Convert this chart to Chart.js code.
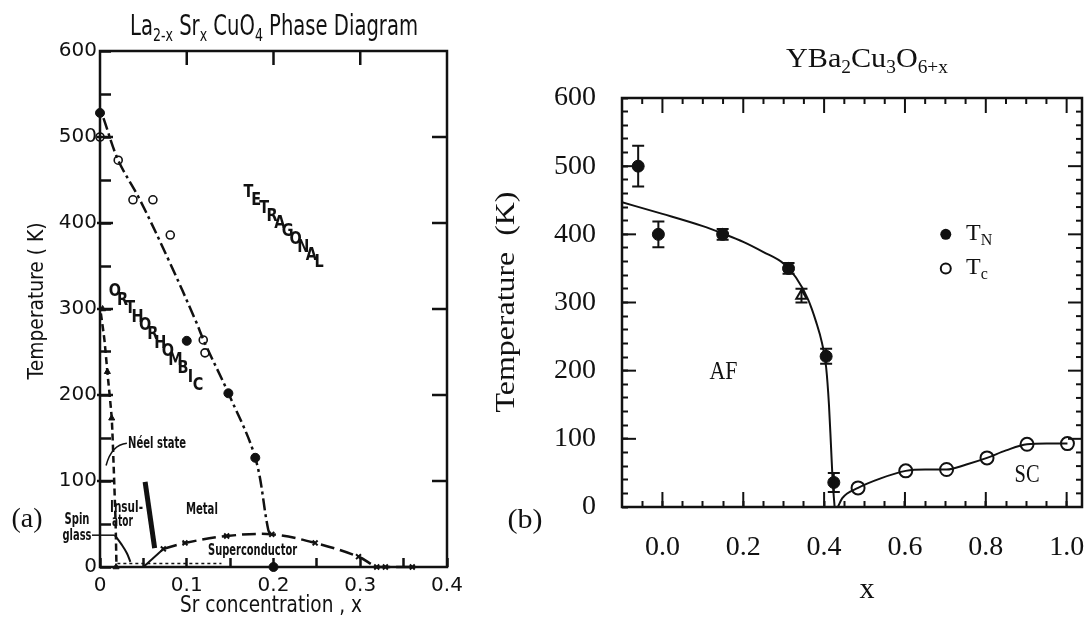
<!DOCTYPE html>
<html>
<head>
<meta charset="utf-8">
<script src="https://cdn.jsdelivr.net/npm/chart.js@4.4.0/dist/chart.umd.min.js"></script>
<style>
  html, body { margin: 0; padding: 0; background: #fff; }
  body { width: 1086px; height: 619px; position: relative; overflow: hidden; }
  #wrapA { position: absolute; left: 0; top: 0; width: 490px; height: 619px; }
  #wrapB { position: absolute; left: 470px; top: 0; width: 656px; height: 619px; }
</style>
</head>
<body>
<div id="wrapA"><canvas id="chartA" width="490" height="619"></canvas></div>
<div id="wrapB"><canvas id="chartB" width="656" height="619"></canvas></div>
<script>
// ---------- panel (a) : La2-x Srx CuO4 ----------
const tickTempA = [0, 100, 200, 300, 400, 500, 600];
const tickConcA = [0, 0.1, 0.2, 0.3, 0.4];

// tetragonal / orthorhombic boundary (dash-dot)
const tetraX = [0.004, 0.021, 0.046, 0.08, 0.11, 0.121, 0.148, 0.179, 0.194, 0.198];
const tetraT = [522, 473, 427, 355, 287, 260, 202, 127, 43, 36];
// open circles
const openAX = [0, 0.021, 0.038, 0.061, 0.081, 0.119, 0.121];
const openAT = [500, 473, 427, 427, 386, 264, 249];
// filled circles
const fillAX = [0, 0.1, 0.148, 0.179, 0.2];
const fillAT = [528, 263, 202, 127, 0];
// Neel line (dashed) and its triangles
const neelX = [0.001, 0.005, 0.0085, 0.0135, 0.016, 0.018, 0.019];
const neelT = [295, 265, 227, 173, 110, 50, 0];
const triAX = [0.003, 0.0085, 0.0135, 0.0185];
const triAT = [300, 227, 173, 0];
// superconducting dome
const scOnX = [0.05, 0.073];
const scOnT = [0, 21];
const scX = [0.073, 0.098, 0.146, 0.198, 0.248, 0.298, 0.319, 0.329, 0.36];
const scT = [21, 28, 36, 38, 28, 12, 0, 0, 0];
// insulator / metal boundary (thick)
const imX = [0.052, 0.063];
const imT = [99, 22];
// spin glass boundary
const sgX = [0.017, 0.025, 0.031, 0.035];
const sgT = [37, 26, 16, 6];
// low dotted line near T = 0
const lowX = [0.02, 0.14];
const lowT = [4, 4];

// tick marks inside the frame
const minorTempA = [50, 150, 250, 350, 450, 550];
const majorTempA = [100, 200, 300, 400, 500];
const topConcA = [0.1, 0.2, 0.3];
const bottomConcA = [0.05, 0.1, 0.15, 0.2, 0.25, 0.3, 0.35];

// ---------- panel (b) : YBa2Cu3O6+x ----------
const tickTempB = [0, 100, 200, 300, 400, 500, 600];
const tickXB = [0, 0.2, 0.4, 0.6, 0.8, 1.0];

const tnX = [-0.060, -0.010, 0.149, 0.312, 0.405, 0.424];
const tnT = [500, 400, 400, 350, 221, 36];
const tnErr = [30, 19, 8, 8, 11, 14];
const triBX = [0.344];
const triBT = [310];
const triBErr = [10];
const tcX = [0.484, 0.602, 0.703, 0.803, 0.902, 1.002];
const tcT = [28, 53, 55, 72, 92, 93];
const tnCurveX = [-0.1, 0, 0.1, 0.15, 0.2, 0.25, 0.3, 0.33, 0.36, 0.38, 0.395, 0.405, 0.412, 0.417, 0.421, 0.426];
const tnCurveT = [447, 430, 412, 401, 389, 374, 357, 337, 305, 272, 240, 205, 150, 90, 40, 0];
const tcCurveX = [0.434, 0.445, 0.484, 0.54, 0.602, 0.65, 0.703, 0.75, 0.803, 0.85, 0.902, 0.95, 1.002];
const tcCurveT = [0, 13, 28, 42, 53, 55, 55, 62, 72, 83, 92, 93, 93];

const minorTempB = [20, 40, 60, 80, 120, 140, 160, 180, 220, 240, 260, 280, 320, 340, 360, 380,
  420, 440, 460, 480, 520, 540, 560, 580];
const majorTempB = [100, 200, 300, 400, 500];
const minorXB = [-0.05, 0.05, 0.1, 0.15, 0.25, 0.3, 0.35, 0.45, 0.5, 0.55, 0.65, 0.7, 0.75,
  0.85, 0.9, 0.95];

const INK = '#111';
const SANS = "'DejaVu Sans', 'Liberation Sans', sans-serif";
const SERIF = "'Liberation Serif', 'DejaVu Serif', serif";

const pts = (xs, ys) => xs.map((x, i) => ({ x, y: ys[i] }));
// all tick positions for an axis (labelled + unlabelled), sorted
const allTicks = (...lists) => [...new Set([].concat(...lists))].sort((a, b) => a - b);
const isIn = (list, v) => list.some(t => Math.abs(t - v) < 1e-6);

// draw a (possibly subscripted) text, centred or left aligned, squeezed to width w
function drawText(ctx, it, px, py) {
  const segs = it.parts || [[it.t, 0]];
  const font = it.font || SANS;
  const weight = it.weight ? it.weight + ' ' : '';
  const subSize = Math.round(it.size * 0.65);
  ctx.save();
  ctx.translate(px, py);
  if (it.rot) ctx.rotate(it.rot);
  let total = 0;
  const widths = segs.map(([s, sub]) => {
    ctx.font = weight + (sub ? subSize : it.size) + 'px ' + font;
    const m = ctx.measureText(s).width;
    total += m;
    return m;
  });
  const sx = it.w ? it.w / total : (it.sx || 1);
  ctx.scale(sx, 1);
  let x = it.align === 'left' ? 0 : -total / 2;
  ctx.textBaseline = 'middle';
  ctx.textAlign = 'left';
  ctx.fillStyle = INK;
  segs.forEach(([s, sub], i) => {
    ctx.font = weight + (sub ? subSize : it.size) + 'px ' + font;
    ctx.fillText(s, x, sub ? it.size * 0.28 : 0);
    x += widths[i];
  });
  ctx.restore();
}

// letters stepping down diagonally like the hand lettering
function drawStair(ctx, word, p0, p1, size) {
  const n = word.length;
  for (let i = 0; i < n; i++) {
    const f = i / (n - 1);
    drawText(ctx, { t: word[i], size, font: SANS, weight: 'bold', sx: 0.85 },
      p0.x + (p1.x - p0.x) * f, p0.y + (p1.y - p0.y) * f);
  }
}

// frame + extra inward tick marks, from the chart scales
function makeTicks(name, spec, tw) {
  return {
    id: 'ticks' + name,
    afterDraw(chart) {
      const ctx = chart.ctx;
      const a = chart.chartArea;
      const xs = chart.scales.x, ys = chart.scales.y;
      ctx.save();
      ctx.setLineDash([]);
      ctx.fillStyle = INK;
      ctx.strokeStyle = INK;
      spec.forEach(([side, values, len, out]) => {
        values.forEach(v => {
          ctx.beginPath();
          if (side === 'left') ctx.rect(a.left - out, ys.getPixelForValue(v) - tw / 2, len + out, tw);
          else if (side === 'right') ctx.rect(a.right - len, ys.getPixelForValue(v) - tw / 2, len, tw);
          else if (side === 'top') ctx.rect(xs.getPixelForValue(v) - tw / 2, a.top, tw, len);
          else ctx.rect(xs.getPixelForValue(v) - tw / 2, a.bottom - len, tw, len);
          ctx.fill();
        });
      });
      ctx.lineWidth = 2.5;
      ctx.strokeRect(a.left, a.top, a.right - a.left, a.bottom - a.top);
      ctx.restore();
    }
  };
}

// Chart.js native tick marks pointing inward (negative tickLength)
const inwardGrid = (len, tw) => ({
  display: true, drawOnChartArea: false, drawTicks: true,
  tickLength: -len, tickColor: INK, tickWidth: tw, color: INK
});

// ---------------- chart (a) ----------------
const decorA = {
  id: 'decorA',
  afterDatasetsDraw(chart) {
    const { ctx, scales: { x, y } } = chart;
    const P = (dx, dy) => ({ x: x.getPixelForValue(dx), y: y.getPixelForValue(dy) });

    drawText(ctx, { parts: [['La', 0], ['2-x', 1], [' Sr', 0], ['x', 1], [' CuO', 0], ['4', 1], [' Phase Diagram', 0]],
      size: 28, w: 288 }, 274, 28);
    drawText(ctx, { t: 'Temperature ( K)', size: 22, w: 157, rot: -Math.PI / 2 }, 37, 301);
    drawText(ctx, { t: 'Sr concentration , x', size: 23, w: 182 }, 271, 606);
    drawText(ctx, { t: '(a)', size: 27, w: 31, font: SERIF }, 27, 520);
    drawText(ctx, { t: 'Spin', size: 15, w: 25, weight: 'bold' }, 77, 520);
    drawText(ctx, { t: 'glass', size: 15, w: 29, weight: 'bold' }, 77, 536);

    let p = P(0.0323, 143);
    drawText(ctx, { t: 'Néel state', size: 16, w: 58, align: 'left', weight: 'bold' }, p.x, p.y);
    p = P(0.0115, 69);
    drawText(ctx, { t: 'Insul-', size: 15, w: 33, align: 'left', weight: 'bold' }, p.x, p.y);
    p = P(0.0138, 52);
    drawText(ctx, { t: 'ator', size: 15, w: 21, align: 'left', weight: 'bold' }, p.x, p.y);
    p = P(0.099, 66);
    drawText(ctx, { t: 'Metal', size: 16, w: 32, align: 'left', weight: 'bold' }, p.x, p.y);
    p = P(0.1246, 18.6);
    drawText(ctx, { t: 'Superconductor', size: 15, w: 89, align: 'left', weight: 'bold' }, p.x, p.y);

    drawStair(ctx, 'TETRAGONAL', P(0.171, 435), P(0.2526, 353.5), 17);
    drawStair(ctx, 'ORTHORHOMBIC', P(0.0173, 320), P(0.113, 210.5), 17);

    // leader lines
    ctx.save();
    ctx.setLineDash([]);
    ctx.strokeStyle = INK;
    ctx.lineWidth = 1.5;
    const a0 = P(0.031, 144), c0 = P(0.013, 142), b0 = P(0.007, 118);
    ctx.beginPath();
    ctx.moveTo(a0.x, a0.y);
    ctx.quadraticCurveTo(c0.x, c0.y, b0.x, b0.y);
    ctx.stroke();
    const g = P(0.017, 37);
    ctx.beginPath();
    ctx.moveTo(92, g.y);
    ctx.lineTo(g.x, g.y);
    ctx.stroke();
    ctx.restore();
  }
};

new Chart(document.getElementById('chartA'), {
  type: 'scatter',
  data: {
    datasets: [
      { data: pts(tetraX, tetraT), showLine: true, pointRadius: 0, borderColor: INK, borderWidth: 2.5,
        borderDash: [12, 4, 3, 4], tension: 0.35 },
      { data: pts(neelX, neelT), showLine: true, pointRadius: 0, borderColor: INK, borderWidth: 2.5,
        borderDash: [7, 4], tension: 0.2 },
      { data: pts(scOnX, scOnT), showLine: true, pointRadius: 0, borderColor: INK, borderWidth: 2 },
      { data: pts(scX, scT), showLine: true, borderColor: INK, borderWidth: 2.5, borderDash: [14, 6],
        tension: 0.35, pointStyle: 'crossRot', pointRadius: 3.5, pointBorderWidth: 2, pointBorderColor: INK, clip: false },
      { data: pts(imX, imT), showLine: true, pointRadius: 0, borderColor: INK, borderWidth: 5 },
      { data: pts(sgX, sgT), showLine: true, pointRadius: 0, borderColor: INK, borderWidth: 2, tension: 0.4 },
      { data: pts(lowX, lowT), showLine: true, pointRadius: 0, borderColor: INK, borderWidth: 1.5, borderDash: [3, 3] },
      { data: pts(openAX, openAT), pointRadius: 4, pointBorderWidth: 1.6, pointBackgroundColor: '#fff',
        pointBorderColor: INK, clip: false },
      { data: pts(fillAX, fillAT), pointRadius: 4.5, pointBorderWidth: 1, pointBackgroundColor: INK,
        pointBorderColor: INK, clip: false },
      { data: pts(triAX, triAT), pointStyle: 'triangle', pointRadius: 3.5, pointBorderWidth: 1,
        pointBackgroundColor: INK, pointBorderColor: INK, clip: false }
    ]
  },
  options: {
    responsive: false,
    animation: false,
    layout: { padding: { left: 0, top: 51, right: 43, bottom: 0 } },
    plugins: { legend: { display: false }, tooltip: { enabled: false } },
    scales: {
      x: {
        type: 'linear', min: 0, max: 0.4,
        afterFit: s => { s.height = 52; },
        afterBuildTicks: s => { s.ticks = allTicks(tickConcA, bottomConcA).map(v => ({ value: v })); },
        grid: inwardGrid(9, 2.5), border: { display: false },
        ticks: { autoSkip: false, maxRotation: 0, padding: 16, color: INK, font: { family: SANS, size: 20 },
          callback: v => (!isIn(tickConcA, v) ? '' : v === 0 ? '0' : v.toFixed(1)) }
      },
      y: {
        type: 'linear', min: 0, max: 600,
        afterFit: s => { s.width = 100; },
        afterBuildTicks: s => { s.ticks = allTicks(tickTempA, minorTempA).map(v => ({ value: v })); },
        grid: inwardGrid(11, 2.5), border: { display: false },
        ticks: { autoSkip: false, padding: 14, color: INK, font: { family: SANS, size: 20 },
          callback: v => (isIn(tickTempA, v) ? String(v) : '') }
      }
    }
  },
  plugins: [decorA, makeTicks('A', [
    ['left', majorTempA, 13, 3], ['right', majorTempA, 15, 0],
    ['top', topConcA, 14, 0]
  ], 2.5)]
});

// ---------------- chart (b) ----------------
const decorB = {
  id: 'decorB',
  afterDatasetsDraw(chart) {
    const { ctx, scales: { x, y } } = chart;
    const P = (dx, dy) => ({ x: x.getPixelForValue(dx), y: y.getPixelForValue(dy) });

    // error bars
    ctx.save();
    ctx.strokeStyle = INK;
    ctx.lineWidth = 2;
    ctx.setLineDash([]);
    [[tnX, tnT, tnErr], [triBX, triBT, triBErr]].forEach(([xs, ts, es]) => {
      xs.forEach((xv, i) => {
        const px = x.getPixelForValue(xv);
        const top = y.getPixelForValue(ts[i] + es[i]);
        const bot = y.getPixelForValue(Math.max(ts[i] - es[i], 0));
        ctx.beginPath();
        ctx.moveTo(px, top); ctx.lineTo(px, bot);
        ctx.moveTo(px - 6, top); ctx.lineTo(px + 6, top);
        ctx.moveTo(px - 6, bot); ctx.lineTo(px + 6, bot);
        ctx.stroke();
      });
    });

    // legend
    ctx.fillStyle = INK;
    let p = P(0.701, 400);
    ctx.beginPath(); ctx.arc(p.x, p.y, 5.5, 0, Math.PI * 2); ctx.fill();
    p = P(0.701, 350);
    ctx.beginPath(); ctx.arc(p.x, p.y, 5, 0, Math.PI * 2); ctx.stroke();
    ctx.restore();

    p = P(0.751, 401);
    drawText(ctx, { parts: [['T', 0], ['N', 1]], size: 24, font: SERIF, align: 'left' }, p.x, p.y);
    p = P(0.751, 351);
    drawText(ctx, { parts: [['T', 0], ['c', 1]], size: 24, font: SERIF, align: 'left' }, p.x, p.y);

    drawText(ctx, { parts: [['YBa', 0], ['2', 1], ['Cu', 0], ['3', 1], ['O', 0], ['6+x', 1]],
      size: 28, w: 162, font: SERIF }, 397, 60);
    drawText(ctx, { t: 'Temperature  (K)', size: 27, w: 221, rot: -Math.PI / 2, font: SERIF }, 37, 302);
    drawText(ctx, { t: 'x', size: 30, font: SERIF }, 397, 590);
    drawText(ctx, { t: '(b)', size: 28, w: 35, font: SERIF }, 55, 521);

    p = P(0.151, 198);
    drawText(ctx, { t: 'AF', size: 26, w: 28, font: SERIF }, p.x, p.y);
    p = P(0.902, 47);
    drawText(ctx, { t: 'SC', size: 26, w: 25, font: SERIF }, p.x, p.y);
  }
};

new Chart(document.getElementById('chartB'), {
  type: 'scatter',
  data: {
    datasets: [
      { data: pts(tnCurveX, tnCurveT), showLine: true, pointRadius: 0, borderColor: INK, borderWidth: 2,
        cubicInterpolationMode: 'monotone' },
      { data: pts(tcCurveX, tcCurveT), showLine: true, pointRadius: 0, borderColor: INK, borderWidth: 2,
        cubicInterpolationMode: 'monotone' },
      { data: pts(tnX, tnT), pointRadius: 6, pointBorderWidth: 1, pointBackgroundColor: INK,
        pointBorderColor: INK, clip: false },
      { data: pts(triBX, triBT), pointStyle: 'triangle', pointRadius: 6, pointBorderWidth: 2,
        pointBackgroundColor: '#fff', pointBorderColor: INK, clip: false },
      { data: pts(tcX, tcT), pointRadius: 6.5, pointBorderWidth: 2, pointBackgroundColor: '#fff',
        pointBorderColor: INK, clip: false }
    ]
  },
  options: {
    responsive: false,
    animation: false,
    layout: { padding: { left: 0, top: 98, right: 44, bottom: 0 } },
    plugins: { legend: { display: false }, tooltip: { enabled: false } },
    scales: {
      x: {
        type: 'linear', min: -0.1, max: 1.038,
        afterFit: s => { s.height = 112; },
        afterBuildTicks: s => { s.ticks = allTicks(tickXB, minorXB).map(v => ({ value: v })); },
        grid: inwardGrid(6, 2), border: { display: false },
        ticks: { autoSkip: false, maxRotation: 0, padding: 30, color: INK, font: { family: SERIF, size: 28 },
          callback: v => (isIn(tickXB, v) ? v.toFixed(1) : '') }
      },
      y: {
        type: 'linear', min: 0, max: 600,
        afterFit: s => { s.width = 152; },
        afterBuildTicks: s => { s.ticks = allTicks(tickTempB, minorTempB).map(v => ({ value: v })); },
        grid: inwardGrid(6, 2), border: { display: false },
        ticks: { autoSkip: false, padding: 32, color: INK, font: { family: SERIF, size: 28 },
          callback: v => (isIn(tickTempB, v) ? String(v) : '') }
      }
    }
  },
  plugins: [decorB, makeTicks('B', [
    ['left', majorTempB, 14, 0],
    ['right', minorTempB, 6, 0], ['right', majorTempB, 14, 0],
    ['top', minorXB, 6, 0], ['top', tickXB, 15, 0],
    ['bottom', tickXB, 15, 0]
  ], 2)]
});
</script>
</body>
</html>
